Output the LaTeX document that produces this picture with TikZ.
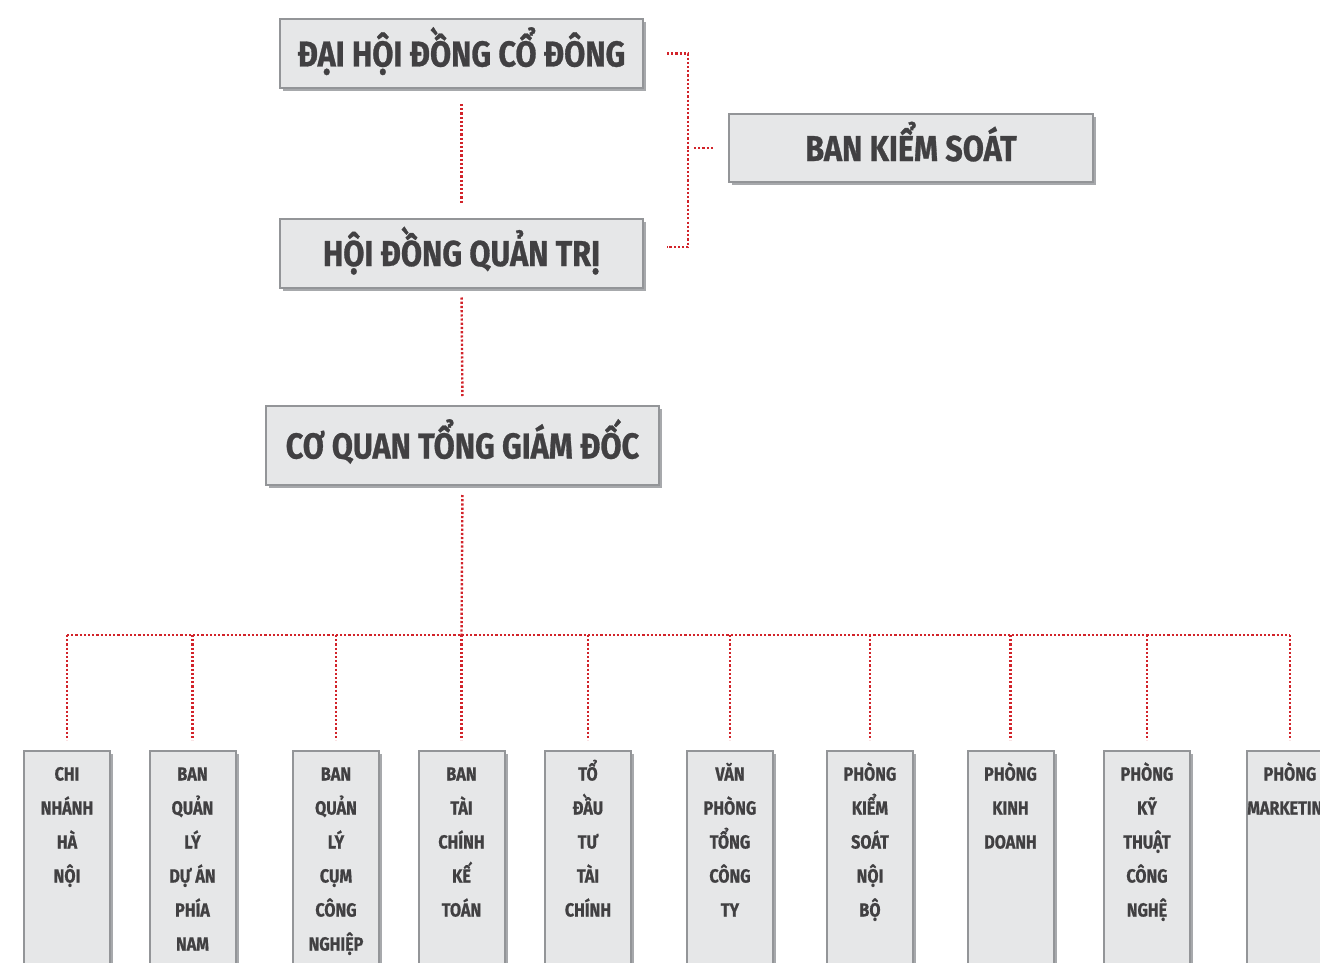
\documentclass[tikz,border=0pt]{standalone}
\usepackage{fontspec}
\setmainfont{Fira Sans}[FakeStretch=0.85, BoldFeatures={FakeBold=0.8}]
\usetikzlibrary{shadows}
\definecolor{boxfill}{HTML}{E6E7E8}
\definecolor{boxline}{HTML}{939598}
\definecolor{shadowc}{HTML}{A7A9AC}
\definecolor{txt}{HTML}{414042}
\definecolor{conn}{HTML}{D2232A}
\newcommand{\unittext}[1]{\parbox[t][240pt][t]{86pt}{\centering\rule{0pt}{29.5pt}#1}}
\tikzset{
  orgbox/.style={draw=boxline, line width=2pt, fill=boxfill,
    drop shadow={shadow xshift=3pt, shadow yshift=-3pt, fill=shadowc, opacity=1},
    text=txt, font=\bfseries\fontsize{36}{40}\selectfont, inner sep=0pt},
  headbox/.style={orgbox, text height=26pt, text depth=0pt},
  unitbox/.style={orgbox, font=\bfseries\fontsize{19}{34}\selectfont, anchor=north},
  link/.style={draw=conn, line width=2.4pt, dash pattern=on 2.2pt off 2pt}
}
\begin{document}
\begin{tikzpicture}[x=1pt,y=-1pt]
\useasboundingbox (0,0) rectangle (1320,963);
\clip (0,0) rectangle (1320,963);
\node[headbox, minimum width=363pt, minimum height=69pt] (dh) at (461.5,53.5) {ĐẠI HỘI ĐỒNG CỔ ĐÔNG};
\node[headbox, minimum width=363pt, minimum height=69pt] (hq) at (461.5,253) {HỘI ĐỒNG QUẢN TRỊ};
\node[headbox, minimum width=364pt, minimum height=68pt] (bks) at (911,148) {BAN KIỂM SOÁT};
\node[headbox, minimum width=393pt, minimum height=79pt] (cq) at (462.5,445.5) {CƠ QUAN TỔNG GIÁM ĐỐC};

\node[unitbox] (u1) at (67,750) {\unittext{CHI\\NHÁNH\\HÀ\\NỘI}};
\node[unitbox] (u2) at (192.5,750) {\unittext{BAN\\QUẢN\\LÝ\\DỰ ÁN\\PHÍA\\NAM}};
\node[unitbox] (u3) at (336,750) {\unittext{BAN\\QUẢN\\LÝ\\CỤM\\CÔNG\\NGHIỆP}};
\node[unitbox] (u4) at (461.5,750) {\unittext{BAN\\TÀI\\CHÍNH\\KẾ\\TOÁN}};
\node[unitbox] (u5) at (588,750) {\unittext{TỔ\\ĐẦU\\TƯ\\TÀI\\CHÍNH}};
\node[unitbox] (u6) at (730,750) {\unittext{VĂN\\PHÒNG\\TỔNG\\CÔNG\\TY}};
\node[unitbox] (u7) at (870,750) {\unittext{PHÒNG\\KIỂM\\SOÁT\\NỘI\\BỘ}};
\node[unitbox] (u8) at (1010.5,750) {\unittext{PHÒNG\\KINH\\DOANH}};
\node[unitbox] (u9) at (1147,750) {\unittext{PHÒNG\\KỸ\\THUẬT\\CÔNG\\NGHỆ}};
\node[unitbox] (u10) at (1290,750) {\unittext{PHÒNG\\MARKETING}};

\draw[link, shorten <=15pt, shorten >=14pt] (dh.south) -- (hq.north);
\draw[link, shorten <=9pt, shorten >=9pt] (hq.south) -- (cq.north);
\coordinate (br) at (688,148);
\draw[link] ([xshift=23pt]dh.east) -| (br) |- ([xshift=23pt,yshift=6pt]hq.east);
\draw[link, shorten <=6pt, shorten >=15pt] (br) -- (bks.west);
\coordinate (bus) at (461.5,635);
\draw[link, shorten <=9pt] (cq.south) -- (bus);
\draw[link] (bus -| u1.north) -- (bus -| u10.north);
\foreach \i in {1,...,10} \draw[link, shorten >=10pt] (bus -| u\i.north) -- (u\i.north);
\end{tikzpicture}
\end{document}
